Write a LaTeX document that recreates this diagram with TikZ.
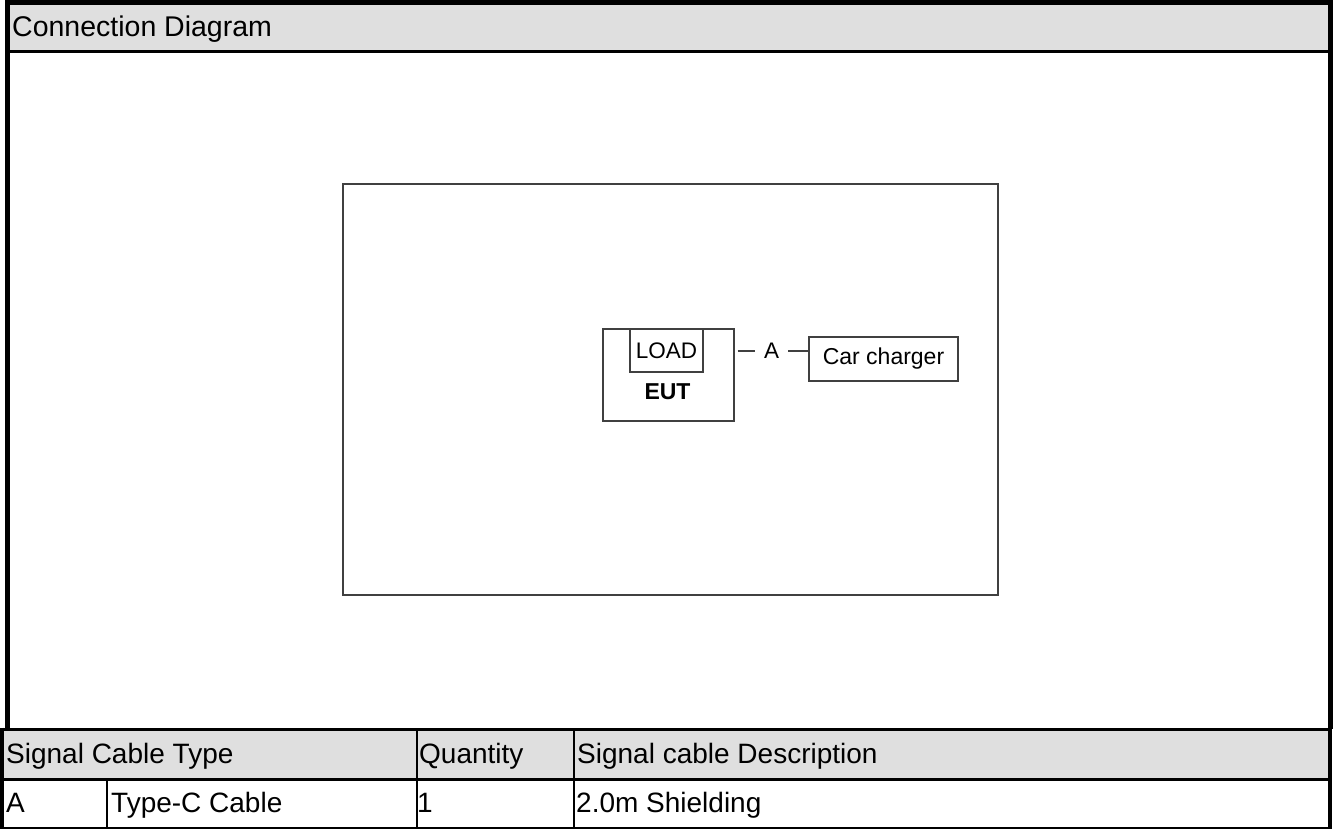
\documentclass[tikz,border=0pt]{standalone}
\usepackage{fontspec}
\setmainfont{Liberation Sans}
\usepackage{tikz}
\definecolor{hdrgray}{HTML}{DFDFDF}
\definecolor{boxgray}{HTML}{404040}

\begin{document}
\begin{tikzpicture}[x=1pt, y=-1pt]
    \tikzstyle{cell} = [anchor=base west, inner sep=0pt, font=\fontsize{28}{33}\selectfont]
    \tikzstyle{unit} = [draw=boxgray, text=black, line width=1.3pt, inner sep=0pt, font=\fontsize{23}{27}\selectfont]
    \useasboundingbox (0,0) rectangle (1336,829);
    % heading band and outer frame
    \fill[hdrgray] (10,5) rectangle (1328,50);
    \draw[line width=3pt] (10,51.5) -- (1328,51.5);
    \draw[line width=5pt] (7.5,729) -- (7.5,2.5) -- (1330.5,2.5) -- (1330.5,729);
    \node[cell, font=\fontsize{28.5}{34}\selectfont] (title) at (12,37) {Connection Diagram};
    % test setup
    \draw[boxgray, line width=1.5pt] (343,184) rectangle (998,595);
    \node[unit, minimum width=131pt, minimum height=92pt] (eut) at (668.5,375) {};
    \node[unit, minimum width=73pt, minimum height=43pt, font=\fontsize{22.5}{27}\selectfont] (load) at (666.5,350.5) {LOAD};
    \node[font=\bfseries\fontsize{23}{27}\selectfont, inner sep=0pt] (eutlabel) at (667.5,392) {EUT};
    \node[unit, minimum width=149pt, minimum height=44pt] (charger) at (883.5,359) {Car charger};
    \draw[boxgray, line width=1.3pt, shorten <=3pt] (eut.east |- charger.174) -- node[fill=white, text=black, inner sep=0pt, minimum width=33pt, minimum height=20pt, font=\fontsize{22.5}{27}\selectfont] (cable) {A} (charger.174);
    % cable table
    \fill[hdrgray] (4,730) rectangle (1329,778);
    \foreach \y/\w in {729/3pt, 779/3pt, 828/2pt}
        \draw[line width=\w] (0,\y) -- (1332,\y);
    \foreach \x in {2,1330}
        \draw[line width=4pt] (\x,727.5) -- (\x,829);
    \draw[line width=2pt] (107,779) -- (107,829);
    \foreach \x in {417,574}
        \draw[line width=2pt] (\x,729) -- (\x,829);
    \node[cell] (hdrtype) at (6,763) {Signal Cable Type};
    \node[cell] (hdrqty) at (419,763) {Quantity};
    \node[cell] (hdrdesc) at (577,763) {Signal cable Description};
    \node[cell] (rowid) at (6,812) {A};
    \node[cell] (rowtype) at (111,812) {Type-C Cable};
    \node[cell] (rowqty) at (417,812) {1};
    \node[cell] (rowdesc) at (576,812) {2.0m Shielding};
\end{tikzpicture}
\end{document}
